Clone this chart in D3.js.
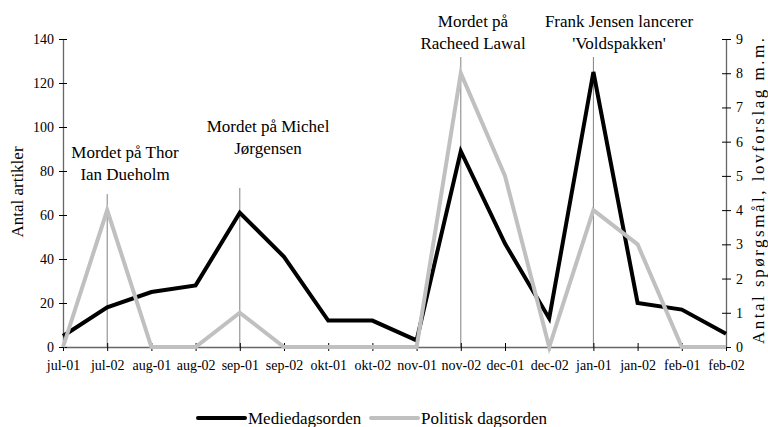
<!DOCTYPE html>
<html>
<head>
<meta charset="utf-8">
<script src="https://cdn.jsdelivr.net/npm/d3@7"></script>
<style>
  body { margin: 0; background: #fff; }
  svg text { font-family: "Liberation Serif", "Times New Roman", Times, serif !important; fill: #000; }
</style>
</head>
<body>
<svg id="chart" width="768" height="427"></svg>
<script>
// data
var months = ['jul-01', 'jul-02', 'aug-01', 'aug-02', 'sep-01', 'sep-02', 'okt-01', 'okt-02',
  'nov-01', 'nov-02', 'dec-01', 'dec-02', 'jan-01', 'jan-02', 'feb-01', 'feb-02']
var medie = [5, 18, 25, 28, 61, 41, 12, 12, 3, 89, 47, 13, 125, 20, 17, 6]
var politisk = [0, 4, 0, 0, 1, 0, 0, 0, 0, 8, 5, 0, 4, 3, 0, 0]
var leftTicks = [0, 20, 40, 60, 80, 100, 120, 140]
var rightTicks = [0, 1, 2, 3, 4, 5, 6, 7, 8, 9]
var seriesNames = ['Mediedagsorden', 'Politisk dagsorden']

// events: month, label lines, top of marker line (left axis units)
var events = [
  {month: 'jul-02', lines: ['Mordet på Thor', 'Ian Dueholm'], top: 69.5},
  {month: 'sep-01', lines: ['Mordet på Michel', 'Jørgensen'], top: 72.3},
  {month: 'nov-02', lines: ['Mordet på', 'Racheed Lawal'], top: 131.8},
  {month: 'jan-01', lines: ['Frank Jensen lancerer', "'Voldspakken'"], top: 131.8}
]
// label placement (x center, first baseline), kept apart from the data
var labelPos = [[125, 158], [268, 132], [473, 27], [619, 27]]

var svg = d3.select('#chart')

var x = d3.scalePoint().domain(months).range([63, 726])
var yL = d3.scaleLinear().domain([0, 140]).range([347, 39])
var yR = d3.scaleLinear().domain([0, 9]).range([347, 39])

var colBlack = '#000', colGrey = '#c0c0c0'
var serif = '"Liberation Serif", "Times New Roman", serif'

// event marker lines
svg.selectAll('line.ev').data(events).enter().append('line')
  .attr('x1', d => x(d.month)).attr('x2', d => x(d.month))
  .attr('y1', d => yL(d.top)).attr('y2', yL(0))
  .attr('stroke', '#808080').attr('stroke-width', 1)

// event labels
events.forEach(function(d, i){
  var t = svg.append('text')
    .attr('text-anchor', 'middle')
    .style('font-size', '17px')
  d.lines.forEach(function(s, j){
    t.append('tspan').attr('x', labelPos[i][0]).attr('y', labelPos[i][1] + j * 22).text(s)
  })
})

// axes
function styleAxis(g, size){
  g.attr('font-family', serif)
  g.select('.domain').attr('stroke', '#666').attr('stroke-width', 1.3)
  g.selectAll('.tick line').attr('stroke', '#000')
  g.selectAll('.tick text').style('font-size', size + 'px')
}

var xAxis = d3.axisBottom(x).tickSizeInner(4).tickSizeOuter(0).tickPadding(0)
svg.append('g').attr('transform', 'translate(0,' + yL(0) + ')').call(xAxis)
  .call(styleAxis, 14)
  .call(g => g.selectAll('.tick line').attr('y1', -4).attr('y2', 4))
  .call(g => g.selectAll('.tick text').attr('y', 23).attr('dy', 0))

var leftAxis = d3.axisLeft(yL).tickValues(leftTicks).tickSizeInner(4).tickSizeOuter(0).tickPadding(5)
svg.append('g').attr('transform', 'translate(' + x(months[0]) + ',0)').call(leftAxis)
  .call(styleAxis, 14)
  .call(g => g.selectAll('.tick line').attr('x1', -4).attr('x2', 4))

var rightAxis = d3.axisRight(yR).tickValues(rightTicks).tickSizeInner(5).tickSizeOuter(0).tickPadding(5)
svg.append('g').attr('transform', 'translate(' + x(months[months.length - 1]) + ',0)').call(rightAxis)
  .call(styleAxis, 14)
  .call(g => g.selectAll('.tick line').attr('x1', -4).attr('x2', 5))

// axis titles
svg.append('text')
  .attr('transform', 'translate(23,192) rotate(-90)')
  .attr('text-anchor', 'middle')
  .style('font-size', '17px')
  .text('Antal artikler')

svg.append('text')
  .attr('transform', 'translate(764,191) rotate(-90)')
  .attr('text-anchor', 'middle')
  .attr('textLength', 306).attr('lengthAdjust', 'spacing')
  .style('font-size', '17px')
  .text('Antal spørgsmål, lovforslag m.m.')

// series lines
var lineL = d3.line().x((d, i) => x(months[i])).y(d => yL(d))
var lineR = d3.line().x((d, i) => x(months[i])).y(d => yR(d))

svg.append('path').attr('d', lineL(medie))
  .attr('fill', 'none').attr('stroke', colBlack).attr('stroke-width', 4)
  .attr('stroke-linejoin', 'miter')

svg.append('path').attr('d', lineR(politisk))
  .attr('fill', 'none').attr('stroke', colGrey).attr('stroke-width', 4)
  .attr('stroke-linejoin', 'miter')

// legend
var legend = svg.append('g')
var legX = [198, 371]
seriesNames.forEach(function(name, i){
  var g = legend.append('g').attr('transform', 'translate(' + legX[i] + ',418)')
  g.append('line').attr('x1', 0).attr('x2', 47)
    .attr('stroke', i ? colGrey : colBlack).attr('stroke-width', 4).attr('stroke-linecap', 'round')
  g.append('text').attr('x', 50).attr('y', 6).style('font-size', '17px').text(name)
})
</script>
</body>
</html>
